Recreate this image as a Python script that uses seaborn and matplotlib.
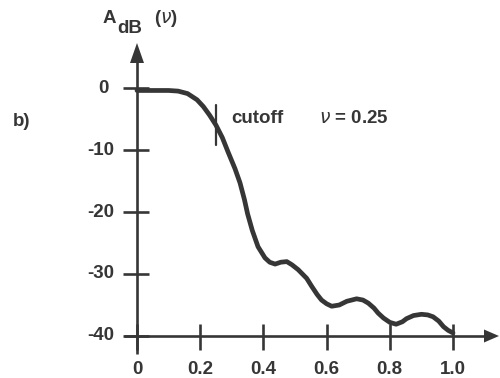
import matplotlib
matplotlib.use("Agg")
import matplotlib.pyplot as plt
import seaborn as sns
import pandas as pd

# Normalized frequency nu and filter gain A_dB(nu)
nu = [0.00, 0.05, 0.10, 0.13, 0.16, 0.19, 0.21, 0.23, 0.25, 0.27, 0.288, 0.31,
      0.326, 0.34, 0.35, 0.365, 0.383, 0.405, 0.42, 0.437, 0.455, 0.474, 0.49,
      0.51, 0.537, 0.553, 0.57, 0.584, 0.60, 0.616, 0.64, 0.664, 0.695, 0.715,
      0.732, 0.75, 0.763, 0.78, 0.80, 0.82, 0.84, 0.853, 0.875, 0.90, 0.92,
      0.937, 0.955, 0.97, 0.985, 1.00]
gain_db = [-0.4, -0.4, -0.4, -0.5, -0.9, -1.9, -3.0, -4.4, -6.0, -8.0, -10.3, -13.0,
           -15.3, -18.0, -20.3, -23.0, -25.6, -27.4, -28.1, -28.4, -28.1, -28.0, -28.5,
           -29.3, -30.7, -32.0, -33.3, -34.2, -34.8, -35.2, -35.0, -34.4, -34.0, -34.2,
           -34.7, -35.5, -36.3, -37.1, -37.8, -38.1, -37.7, -37.2, -36.7, -36.5, -36.6,
           -36.9, -37.6, -38.5, -39.1, -39.5]

x_ticks = [0.0, 0.2, 0.4, 0.6, 0.8, 1.0]
x_tick_labels = ["0", "0.2", "0.4", "0.6", "0.8", "1.0"]
y_ticks = [0, -10, -20, -30, -40]
y_tick_labels = ["0", "-10", "-20", "-30", "-40"]
cutoff_nu = 0.25

sns.set_style("white")
plt.rcParams["font.family"] = ["Liberation Sans", "DejaVu Sans"]

INK = "#363636"
W, H = 500, 378
fig = plt.figure(figsize=(W / 100, H / 100), dpi=100)
ax = fig.add_axes([0, 0, 1, 1])
ax.set_axis_off()

# pixel <-> data scale: nu=0 at x=137, 316 px per unit; 0 dB at y=88, 6.2 px per dB
X0, SX = 137.0, 316.0
Y0, SY = 88.0, 6.2

def px_x(p):
    return (p - X0) / SX

def px_y(p):
    return (Y0 - p) / SY

dx = 1.0 / SX
dy = 1.0 / SY

# axes with arrow heads
ax.plot([0, 0], [px_y(354), px_y(60)], color=INK, lw=1.9, solid_capstyle="butt")
ax.plot([px_x(124), px_x(485)], [-40, -40], color=INK, lw=1.9, solid_capstyle="butt")
ax.fill([-7 * dx, 7 * dx, 0], [px_y(63), px_y(63), px_y(43)], color=INK, lw=0)
ax.fill([px_x(484), px_x(484), px_x(499)], [-40 + 6.5 * dy, -40 - 6.5 * dy, -40],
        color=INK, lw=0)

# tick marks crossing the axes
for t in y_ticks:
    ax.plot([-14 * dx, 12 * dx], [t, t], color=INK, lw=1.9, solid_capstyle="butt")
for t in x_ticks:
    ax.plot([t, t], [-40 + 12 * dy, -40 - 14 * dy], color=INK, lw=1.9,
            solid_capstyle="butt")

txt = dict(color=INK, fontsize=13.5, fontweight="bold")
for t, lab in zip(y_ticks, y_tick_labels):
    right = 109 if lab == "0" else 114
    ax.text(px_x(right), t, lab, ha="right", va="center", **txt)
for t, lab in zip(x_ticks, x_tick_labels):
    ax.text(t, px_y(361), lab, ha="center", va="top", **txt)

# the response curve
df = pd.DataFrame({"nu": nu, "A_dB": gain_db})
sns.lineplot(data=df, x="nu", y="A_dB", ax=ax, color=INK, lw=3.4,
             sort=False, estimator=None)
ax.set_xlim(-X0 / SX, (W - X0) / SX)
ax.set_ylim((Y0 - H) / SY, Y0 / SY)

# cutoff marker and annotation
ax.plot([cutoff_nu, cutoff_nu], [px_y(105), px_y(145)], color=INK, lw=1.6)
ax.text(px_x(231), px_y(123), "cutoff", ha="left", va="baseline", **txt)
ax.text(px_x(319), px_y(123), f"$\\nu$ = {cutoff_nu}", ha="left", va="baseline", **txt)

# axis title and panel label
ax.text(px_x(103), px_y(23), "A", ha="left", va="baseline", **txt)
ax.text(px_x(117), px_y(33), "dB", ha="left", va="baseline", **txt)
ax.text(px_x(154), px_y(23), "($\\nu$)", ha="left", va="baseline", **txt)
ax.text(px_x(13), px_y(126), "b)", ha="left", va="baseline", **txt)

fig.savefig("out.png", dpi=100, facecolor="white")
